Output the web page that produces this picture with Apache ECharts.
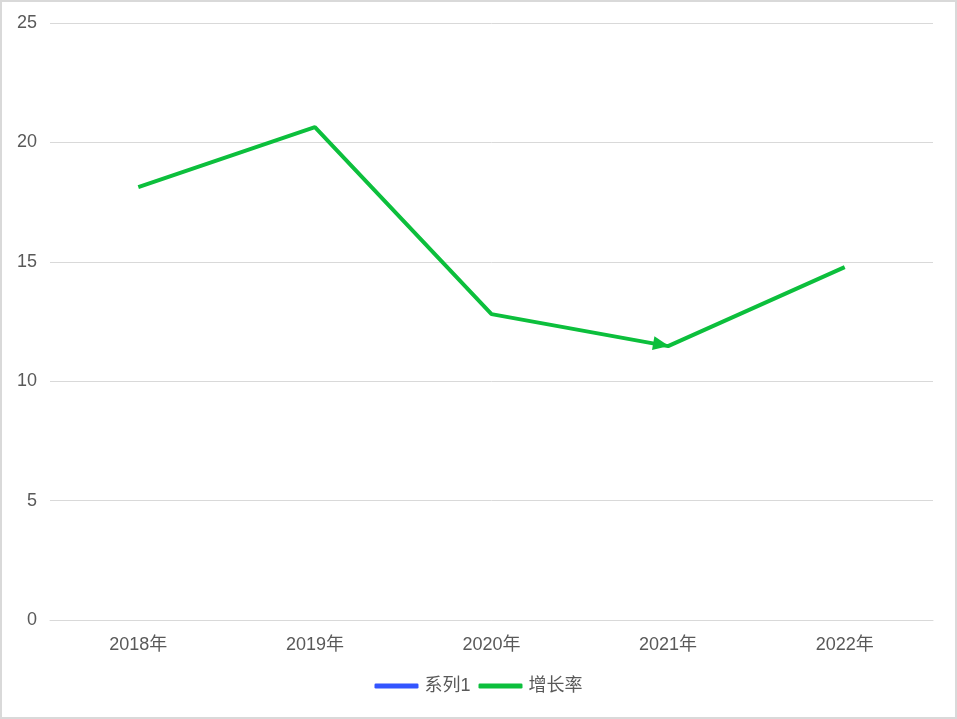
<!DOCTYPE html>
<html><head><meta charset="utf-8">
<script src="https://cdn.jsdelivr.net/npm/echarts@6/dist/echarts.min.js"></script>
<style>
html,body{margin:0;padding:0;background:#fff;}
#wrap{width:957px;height:719px;box-sizing:border-box;border:2px solid #d9d9d9;position:relative;}
#c{position:absolute;left:-2px;top:-2px;width:957px;height:719px;}
</style></head><body>
<div id="wrap"><div id="c"></div></div>
<script>
const categories = ['2018年','2019年','2020年','2021年','2022年'];
const series1 = [];
const growthRate = [18.13, 20.64, 12.81, 11.47, 14.78];
const yTicks = [0,5,10,15,20,25];

const font = '"Liberation Sans", "Noto Sans CJK SC", sans-serif';
const chart = echarts.init(document.getElementById('c'), null, {renderer:'canvas'});
const growthData = growthRate.map((v,i)=> i===3
  ? {value:v, symbol:'triangle', symbolSize:[14,16], symbolRotate:-100, symbolOffset:[-7,-1.5], itemStyle:{color:'#0cbf3c'}}
  : {value:v, symbol:'none'});
chart.setOption({
  animation:false,
  grid:{left:50,right:24,top:23,bottom:99},
  legend:{bottom:19,left:'center',itemWidth:44,itemHeight:5,itemGap:8,icon:'roundRect',
    textStyle:{color:'#595959',fontSize:18,fontFamily:font,padding:[0,0,0,1]},
    data:['系列1','增长率']},
  xAxis:{type:'category',data:categories,
    axisLine:{lineStyle:{color:'#d9d9d9',width:1}},axisTick:{show:false},
    axisLabel:{color:'#595959',fontSize:18,fontFamily:font,margin:16}},
  yAxis:{type:'value',min:yTicks[0],max:yTicks[yTicks.length-1],interval:5,
    axisLine:{show:false},axisTick:{show:false},
    splitLine:{lineStyle:{color:'#d9d9d9',width:1}},
    axisLabel:{color:'#595959',fontSize:18,fontFamily:font,margin:13}},
  series:[
    {name:'系列1',type:'line',data:series1,itemStyle:{color:'#3355ff'},lineStyle:{color:'#3355ff',width:4},symbol:'none'},
    {name:'增长率',type:'line',data:growthData,itemStyle:{color:'#0cbf3c'},lineStyle:{color:'#0cbf3c',width:4},
     showAllSymbol:true,symbol:'none'}
  ]
});
</script></body></html>
